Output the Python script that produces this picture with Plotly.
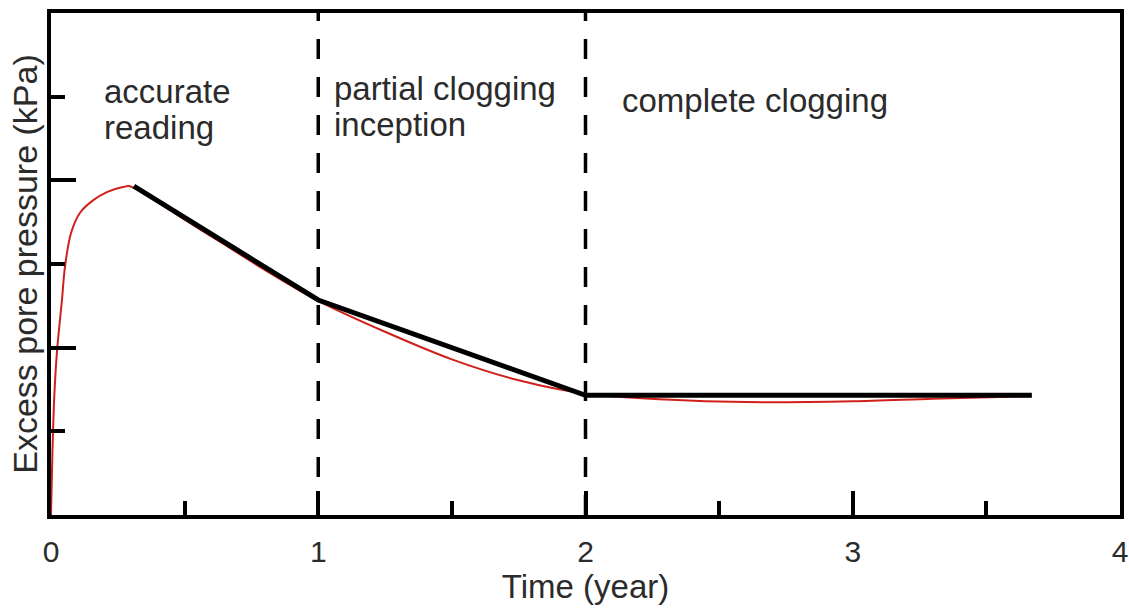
import plotly.graph_objects as go

# Measured (red) excess pore pressure curve
measured_t = [0, 0.005, 0.012, 0.023, 0.041, 0.052, 0.075, 0.108, 0.157, 0.209, 0.269, 0.295,
              0.34, 0.5, 0.65, 0.8, 1.0, 1.25, 1.5, 1.75, 2.0, 2.3, 2.6, 3.0, 3.3, 3.67]
measured_p = [0, 0.7, 1.4, 1.98, 2.57, 2.96, 3.37, 3.61, 3.76, 3.86, 3.92, 3.93,
              3.86, 3.53, 3.23, 2.93, 2.56, 2.19, 1.86, 1.61, 1.45, 1.38, 1.35, 1.36, 1.39, 1.42]

# Piezometer (black) reading, piecewise linear
reading_t = [0.31, 1.0, 2.0, 3.67]
reading_p = [3.93, 2.57, 1.43, 1.43]

# Phase boundaries (years)
phase_bounds = [1, 2]
y_span = [0, 6]

x_ticks = [0, 1, 2, 3, 4]
x_ticklabels = ["0", "1", "2", "3", "4"]

FONT = "Liberation Sans, Arial, sans-serif"
TXT = "#2b2b2b"

fig = go.Figure()

for b in phase_bounds:
    fig.add_trace(go.Scatter(x=[b, b], y=y_span, mode="lines",
                             line=dict(color="black", width=3.5, dash="20px,18px"),
                             showlegend=False, hoverinfo="skip"))

fig.add_trace(go.Scatter(x=measured_t, y=measured_p, mode="lines",
                         line=dict(color="#d0201c", width=2, shape="spline", smoothing=0.8),
                         showlegend=False))
fig.add_trace(go.Scatter(x=reading_t, y=reading_p, mode="lines",
                         line=dict(color="black", width=5),
                         showlegend=False))

ann = [
    ("accurate", 0.19, 5.06),
    ("reading", 0.19, 4.63),
    ("partial clogging", 1.05, 5.1),
    ("inception", 1.05, 4.67),
    ("complete clogging", 2.13, 4.96),
]
for t, x, y in ann:
    fig.add_annotation(x=x, y=y, text=t, showarrow=False, xanchor="left", yanchor="middle",
                       font=dict(family=FONT, size=33, color=TXT))

fig.update_layout(
    width=1129, height=608,
    margin=dict(l=51, r=9, t=13, b=93),
    plot_bgcolor="white", paper_bgcolor="white",
    font=dict(family=FONT, color=TXT),
)
fig.update_xaxes(
    range=[0, 4], tickvals=x_ticks, ticktext=x_ticklabels,
    ticks="inside", ticklen=24, tickwidth=3.5, tickcolor="black",
    minor=dict(dtick=0.5, ticks="inside", ticklen=14, tickwidth=3.5, tickcolor="black"),
    showline=True, linewidth=4, linecolor="black", mirror=True,
    showgrid=False, zeroline=False, automargin=False,
    tickfont=dict(size=30, color=TXT, family=FONT),
    ticklabelstandoff=7, ticklabeloverflow="allow",
    title=dict(text="Time (year)", font=dict(size=33, color=TXT, family=FONT), standoff=6),
)
fig.update_yaxes(
    range=y_span, dtick=2, tick0=0,
    ticks="inside", ticklen=25, tickwidth=3.5, tickcolor="black",
    minor=dict(dtick=1, ticks="inside", ticklen=14, tickwidth=3.5, tickcolor="black"),
    showline=True, linewidth=4, linecolor="black", mirror=True,
    showgrid=False, zeroline=False, showticklabels=False, automargin=False,
    title=dict(text="Excess pore pressure (kPa)", font=dict(size=34, color=TXT, family=FONT), standoff=0),
)

fig.write_html("out.html")
